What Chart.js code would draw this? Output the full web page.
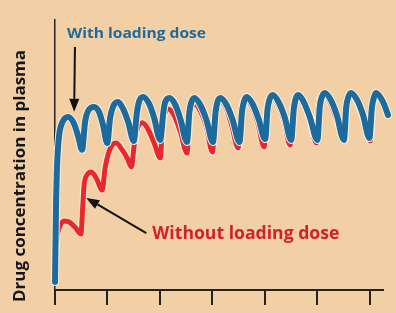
<!DOCTYPE html>
<html>
<head>
<meta charset="utf-8">
<script src="https://cdn.jsdelivr.net/npm/chart.js@4.4.1/dist/chart.umd.min.js"></script>
<style>
  html, body { margin: 0; padding: 0; background: #F2CFA5; }
  #wrap { width: 396px; height: 313px; }
</style>
</head>
<body>
<div id="wrap"><canvas id="pkChart" width="396" height="313"></canvas></div>
<script>
// time axis: one dose per unit, a tick every two
const xTicks = [0, 2, 4, 6, 8, 10, 12];

// with loading dose (blue)
const withTime = [0, 0.04, 0.08, 0.15, 0.27, 0.50, 0.73, 0.88, 1.03,
    1.15, 1.26, 1.49, 1.68, 1.83, 1.99,
    2.10, 2.22, 2.41, 2.60, 2.79, 3.00,
    3.12, 3.21, 3.36, 3.59, 3.78, 4.01,
    4.13, 4.20, 4.36, 4.59, 4.78, 5.03,
    5.12, 5.20, 5.31, 5.54, 5.77, 6.02,
    6.12, 6.19, 6.31, 6.54, 6.77, 7.03,
    7.13, 7.21, 7.30, 7.53, 7.76, 8.01,
    8.10, 8.18, 8.30, 8.52, 8.75, 9.00,
    9.10, 9.17, 9.27, 9.48, 9.71, 10.00,
    10.09, 10.17, 10.28, 10.51, 10.74, 11.01,
    11.10, 11.18, 11.28, 11.51, 11.74, 11.98,
    12.08, 12.16, 12.23, 12.46, 12.69, 12.88];
const withConc = [3.0, 31.5, 46.3, 56.7, 61.9, 64.1, 61.5, 57.0, 51.9,
    62.6, 66.3, 67.8, 65.9, 61.1, 54.4,
    63.7, 68.1, 69.6, 67.0, 62.2, 55.2,
    65.6, 70.0, 71.5, 68.9, 63.7, 55.6,
    65.9, 69.6, 71.1, 68.5, 63.3, 54.8,
    65.9, 69.6, 71.1, 68.5, 63.0, 54.8,
    65.9, 69.6, 71.1, 68.5, 63.0, 54.8,
    66.3, 70.0, 71.5, 68.9, 63.3, 55.9,
    67.0, 70.7, 72.2, 69.6, 64.1, 55.6,
    67.0, 70.7, 72.2, 69.6, 64.1, 55.6,
    67.8, 71.5, 73.0, 70.4, 64.8, 55.6,
    67.8, 71.5, 73.0, 70.4, 64.8, 56.3,
    67.8, 71.5, 73.0, 70.4, 64.8, 58.1];

// without loading dose (red)
const withoutTime = [0, 0.04, 0.08, 0.19, 0.34, 0.54, 0.76, 0.99,
    1.05, 1.11, 1.22, 1.38, 1.57, 1.80,
    1.91, 2.03, 2.18, 2.33, 2.56, 2.75, 2.91,
    3.02, 3.13, 3.33, 3.56, 3.78, 4.01,
    4.09, 4.17, 4.32, 4.55, 4.78, 5.03,
    5.12, 5.20, 5.31, 5.54, 5.77, 6.00,
    6.10, 6.17, 6.29, 6.52, 6.73, 6.98,
    7.07, 7.15, 7.26, 7.49, 7.72, 7.97,
    8.07, 8.14, 8.26, 8.49, 8.72, 8.96,
    9.06, 9.14, 9.25, 9.48, 9.71, 9.96,
    10.03, 10.11, 10.23, 10.46, 10.71, 11.05,
    11.10, 11.16, 11.26, 11.49, 11.74, 12.02,
    12.10, 12.18, 12.27, 12.50, 12.73, 12.92];
const withoutConc = [3.0, 14.8, 19.6, 23.7, 25.6, 25.2, 23.3, 20.7,
    29.6, 38.9, 42.6, 43.7, 41.5, 37.0,
    45.2, 50.4, 53.7, 54.4, 51.9, 48.9, 45.6,
    53.7, 59.3, 61.9, 59.3, 54.4, 48.9,
    59.3, 64.8, 67.0, 64.4, 58.5, 50.7,
    63.0, 67.4, 68.9, 66.3, 60.4, 51.1,
    64.8, 68.9, 70.0, 67.4, 61.1, 52.6,
    65.9, 69.6, 70.7, 68.1, 62.2, 53.0,
    66.7, 70.4, 71.5, 68.9, 63.0, 53.7,
    67.4, 70.7, 71.9, 69.3, 63.3, 54.4,
    67.4, 71.1, 72.6, 70.0, 63.7, 55.2,
    67.8, 71.1, 72.6, 70.0, 63.7, 55.2,
    67.8, 71.1, 72.6, 70.0, 63.7, 56.7];

const BLUE = '#1D6A9D';
const RED = '#E8282C';
const HALO = '#FBEEDB';

const toPoints = (xs, ys) => xs.map((t, i) => ({ x: t, y: ys[i] }));

function lineSet(data, color, width, order) {
    return {
        data, borderColor: color, borderWidth: width, order,
        pointRadius: 0, cubicInterpolationMode: 'monotone',
        borderJoinStyle: 'round', borderCapStyle: 'round', clip: false
    };
}

// labels and arrows, placed in data units
function drawText(ctx, text, x, y, width, size, color, rotate) {
    ctx.save();
    ctx.font = `bold ${size}px "Open Sans"`;
    const w = ctx.measureText(text).width;
    ctx.translate(x, y);
    if (rotate) ctx.rotate(-Math.PI / 2);
    ctx.scale(width / w, 1);
    ctx.fillStyle = color;
    ctx.textBaseline = 'middle';
    ctx.textAlign = rotate ? 'center' : 'left';
    ctx.fillText(text, 0, 0);
    ctx.restore();
}

function drawArrow(ctx, x1, y1, x2, y2) {
    const a = Math.atan2(y2 - y1, x2 - x1);
    const len = 13, half = 5;
    const bx = x2 - len * Math.cos(a), by = y2 - len * Math.sin(a);
    ctx.save();
    ctx.strokeStyle = '#111';
    ctx.fillStyle = '#111';
    ctx.lineWidth = 2;
    ctx.beginPath();
    ctx.moveTo(x1, y1);
    ctx.lineTo(bx, by);
    ctx.stroke();
    ctx.beginPath();
    ctx.moveTo(x2, y2);
    ctx.lineTo(bx + half * Math.sin(a), by - half * Math.cos(a));
    ctx.lineTo(bx - half * Math.sin(a), by + half * Math.cos(a));
    ctx.closePath();
    ctx.fill();
    ctx.restore();
}

const annotations = {
    id: 'annotations',
    afterDraw(chart) {
        const { ctx, scales: { x, y } } = chart;
        drawArrow(ctx, x.getPixelForValue(0.76), y.getPixelForValue(90),
            x.getPixelForValue(0.73), y.getPixelForValue(66));
        drawArrow(ctx, x.getPixelForValue(3.48), y.getPixelForValue(21.1),
            x.getPixelForValue(1.19), y.getPixelForValue(34.1));
        drawText(ctx, 'With loading dose', x.getPixelForValue(0.46), y.getPixelForValue(94.8),
            139, 15, BLUE, false);
        drawText(ctx, 'Without loading dose', x.getPixelForValue(3.71), y.getPixelForValue(20.7),
            187, 17, '#D2202C', false);
        drawText(ctx, 'Drug concentration in plasma', 20, 176, 252, 16, '#161616', true);
    }
};

new Chart(document.getElementById('pkChart'), {
    type: 'line',
    data: {
        datasets: [
            lineSet(toPoints(withTime, withConc), BLUE, 6, 0),
            lineSet(toPoints(withTime, withConc), HALO, 8, 1),
            lineSet(toPoints(withoutTime, withoutConc), RED, 5, 2),
            lineSet(toPoints(withoutTime, withoutConc), HALO, 7, 3)
        ]
    },
    options: {
        responsive: false,
        animation: false,
        layout: { padding: { left: 0, top: 20, right: 13, bottom: 0 } },
        plugins: { legend: { display: false }, tooltip: { enabled: false } },
        scales: {
            x: {
                type: 'linear', min: 0, max: 12.5,
                afterBuildTicks: s => { s.ticks = xTicks.map(v => ({ value: v })); },
                ticks: { display: false },
                grid: { drawOnChartArea: false, drawTicks: true, tickLength: 15, color: '#222', lineWidth: 2 },
                border: { display: true, color: '#222', width: 2 },
                afterFit: s => { s.height = 23; }
            },
            y: {
                type: 'linear', min: 0, max: 100,
                ticks: { display: false },
                grid: { display: false },
                border: { display: true, color: '#222', width: 1.5 },
                afterFit: s => { s.width = 55; }
            }
        }
    },
    plugins: [annotations]
});
</script>
</body>
</html>
